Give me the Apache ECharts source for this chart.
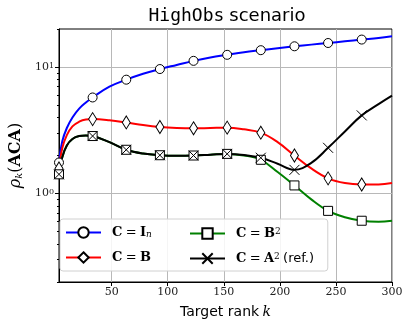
<!DOCTYPE html>
<html>
<head>
<meta charset="utf-8">
<script src="https://cdn.jsdelivr.net/npm/echarts@6/dist/echarts.min.js"></script>
<style>
  html, body { margin: 0; padding: 0; background: #fff; }
  #chart { width: 409px; height: 326px; }
</style>
</head>
<body>
<div id="chart"></div>
<script>
  const ks = [3, 6, 10, 15, 21, 27, 33, 48, 63, 78, 93, 108, 123, 138, 153, 168, 183, 198, 213, 228, 243, 258, 273, 288, 300];
  // ks that carry a marker
  const markerKs = [3, 33, 63, 93, 123, 153, 183, 213, 243, 273];

  const rhoIn = [1.76, 2.6, 3.3, 4.0, 4.7, 5.25, 5.75, 7.0, 7.95, 8.85, 9.65, 10.4, 11.2, 11.9, 12.5, 13.1, 13.6, 14.1, 14.6, 15.05, 15.5, 16.0, 16.5, 17.0, 17.5];
  const rhoB = [1.58, 2.3, 2.9, 3.4, 3.7, 3.85, 3.88, 3.8, 3.65, 3.48, 3.36, 3.3, 3.28, 3.3, 3.32, 3.22, 3.03, 2.55, 2.0, 1.58, 1.32, 1.21, 1.18, 1.18, 1.21];
  const rhoB2 = [1.42, 1.95, 2.4, 2.7, 2.85, 2.88, 2.85, 2.55, 2.22, 2.07, 2.01, 1.99, 2.0, 2.03, 2.06, 2.0, 1.85, 1.48, 1.16, 0.9, 0.73, 0.65, 0.61, 0.6, 0.61];
  const rhoA2 = [1.42, 1.95, 2.4, 2.7, 2.85, 2.88, 2.85, 2.55, 2.22, 2.07, 2.01, 1.99, 2.0, 2.03, 2.06, 2.02, 1.92, 1.72, 1.54, 1.75, 2.3, 3.1, 4.15, 5.1, 5.95];

  const xTicks = [50, 100, 150, 200, 250, 300];
  const yMajor = [1, 10];
  const yMinor = [0.2, 0.3, 0.4, 0.5, 0.6, 0.7, 0.8, 0.9, 2, 3, 4, 5, 6, 7, 8, 9, 20];

  const serif = 'DejaVu Serif';
  const sans = 'DejaVu Sans';

  function points(vals) {
    return ks.map((k, i) => {
      const item = { value: [k, vals[i]] };
      if (markerKs.indexOf(k) < 0) item.symbol = 'none';
      return item;
    });
  }

  function lineSeries(name, vals, color, symbol, size, fill) {
    return {
      name: name,
      type: 'line',
      data: points(vals),
      smooth: 0.4,
      symbol: symbol,
      symbolSize: size,
      showSymbol: true,
      lineStyle: { color: color, width: 2 },
      itemStyle: { color: fill, borderColor: '#000', borderWidth: 1 },
      emphasis: { disabled: true }
    };
  }

  const legendText = {
    In: '{g| }{b|C} {r|=} {b|I}{sub|n}',
    B: '{g| }{b|C} {r|=} {b|B}',
    B2: '{g| }{b|C} {r|=} {b|B}{sup|2}',
    A2: '{g| }{b|C} {r|=} {b|A}{sup|2} {s|(ref.)}'
  };

  const legendRich = {
    g: { width: 6 },
    b: { fontFamily: serif, fontWeight: 'bold', fontSize: 13, color: '#000' },
    r: { fontFamily: serif, fontSize: 13, color: '#000' },
    sub: { fontFamily: serif, fontStyle: 'italic', fontSize: 9, color: '#000', verticalAlign: 'bottom' },
    sup: { fontFamily: serif, fontSize: 9, color: '#000', verticalAlign: 'top' },
    s: { fontFamily: sans, fontSize: 13, color: '#000' }
  };

  // two legend columns, like matplotlib ncol=2; the first one carries the frame
  function legendCol(names, left, padding, framed) {
    return {
      orient: 'vertical',
      left: left,
      top: 219,
      data: names,
      padding: padding,
      itemGap: 12,
      itemWidth: 35,
      itemHeight: 13,
      backgroundColor: framed ? 'rgba(255,255,255,0.85)' : 'transparent',
      borderColor: framed ? '#d0d0d0' : 'transparent',
      borderWidth: framed ? 1 : 0,
      borderRadius: 3,
      formatter: name => legendText[name],
      textStyle: { rich: legendRich }
    };
  }

  let myChart = echarts.init(document.getElementById('chart'));
  let option = {
    animation: false,
    title: {
      text: '{m|HighObs} {s|scenario}',
      left: 222,
      textAlign: 'center',
      top: 2,
      textStyle: {
        fontWeight: 'normal',
        rich: {
          m: { fontFamily: 'DejaVu Sans Mono', fontWeight: 'normal', fontSize: 18, color: '#000' },
          s: { fontFamily: sans, fontWeight: 'normal', fontSize: 18, color: '#000' }
        }
      }
    },
    grid: { left: 52, right: 17, top: 29, bottom: 44, show: true, borderColor: '#000', borderWidth: 1 },
    legend: [
      legendCol(['In', 'B'], 60, [7, 176, 7, 5], true),
      legendCol(['B2', 'A2'], 184, [8, 5, 7, 5], false)
    ],
    xAxis: {
      type: 'value',
      min: 3,
      max: 300,
      name: '{s|Target rank} {i|k}',
      nameLocation: 'middle',
      nameGap: 23,
      nameTextStyle: {
        rich: {
          s: { fontFamily: sans, fontSize: 14, color: '#000' },
          i: { fontFamily: serif, fontStyle: 'italic', fontSize: 14, color: '#000' }
        }
      },
      axisLine: { show: true, lineStyle: { color: '#000' } },
      axisTick: { show: true, length: 4, customValues: xTicks, lineStyle: { color: '#000' } },
      axisLabel: { customValues: xTicks, fontFamily: serif, fontSize: 11, color: '#222', margin: 5 },
      splitLine: { show: true, lineStyle: { color: '#b8b8b8', width: 1 } }
    },
    yAxis: [
      {
        type: 'log',
        logBase: 10,
        min: 0.2,
        max: 20,
        name: '{i|ρ}{sub|k}{r|(}{b|ACA}{r|)}',
        nameLocation: 'middle',
        nameGap: 27,
        nameTextStyle: {
          rich: {
            i: { fontFamily: serif, fontStyle: 'italic', fontSize: 16, color: '#000' },
            sub: { fontFamily: serif, fontStyle: 'italic', fontSize: 10, color: '#000', verticalAlign: 'bottom' },
            r: { fontFamily: serif, fontSize: 16, color: '#000' },
            b: { fontFamily: serif, fontWeight: 'bold', fontSize: 16, color: '#000' }
          }
        },
        axisLine: { show: true, lineStyle: { color: '#000' } },
        axisTick: { show: true, length: 4, customValues: yMajor, lineStyle: { color: '#000' } },
        axisLabel: {
          customValues: yMajor,
          margin: 5,
          formatter: v => '{r|10}{sup|' + Math.round(Math.log10(v)) + '}',
          rich: {
            r: { fontFamily: serif, fontSize: 11, color: '#222' },
            sup: { fontFamily: serif, fontSize: 8, color: '#222', verticalAlign: 'top' }
          }
        },
        splitLine: { show: true, lineStyle: { color: '#b8b8b8', width: 1 } }
      },
      {
        type: 'log',
        logBase: 10,
        min: 0.2,
        max: 20,
        position: 'left',
        axisLine: { show: false },
        axisTick: { show: true, length: 2, customValues: yMinor, lineStyle: { color: '#000' } },
        axisLabel: { show: false },
        splitLine: { show: false }
      }
    ],
    series: [
      lineSeries('In', rhoIn, '#0000ff', 'circle', 9, '#fff'),
      lineSeries('B', rhoB, '#ff0000', 'diamond', [8, 13], '#fff'),
      lineSeries('B2', rhoB2, '#008000', 'rect', 9, '#fff'),
      lineSeries('A2', rhoA2, '#000000', 'path://M0,0L10,10M10,0L0,10', 10, 'rgba(0,0,0,0)')
    ]
  };
  myChart.setOption(option);
</script>
</body>
</html>
